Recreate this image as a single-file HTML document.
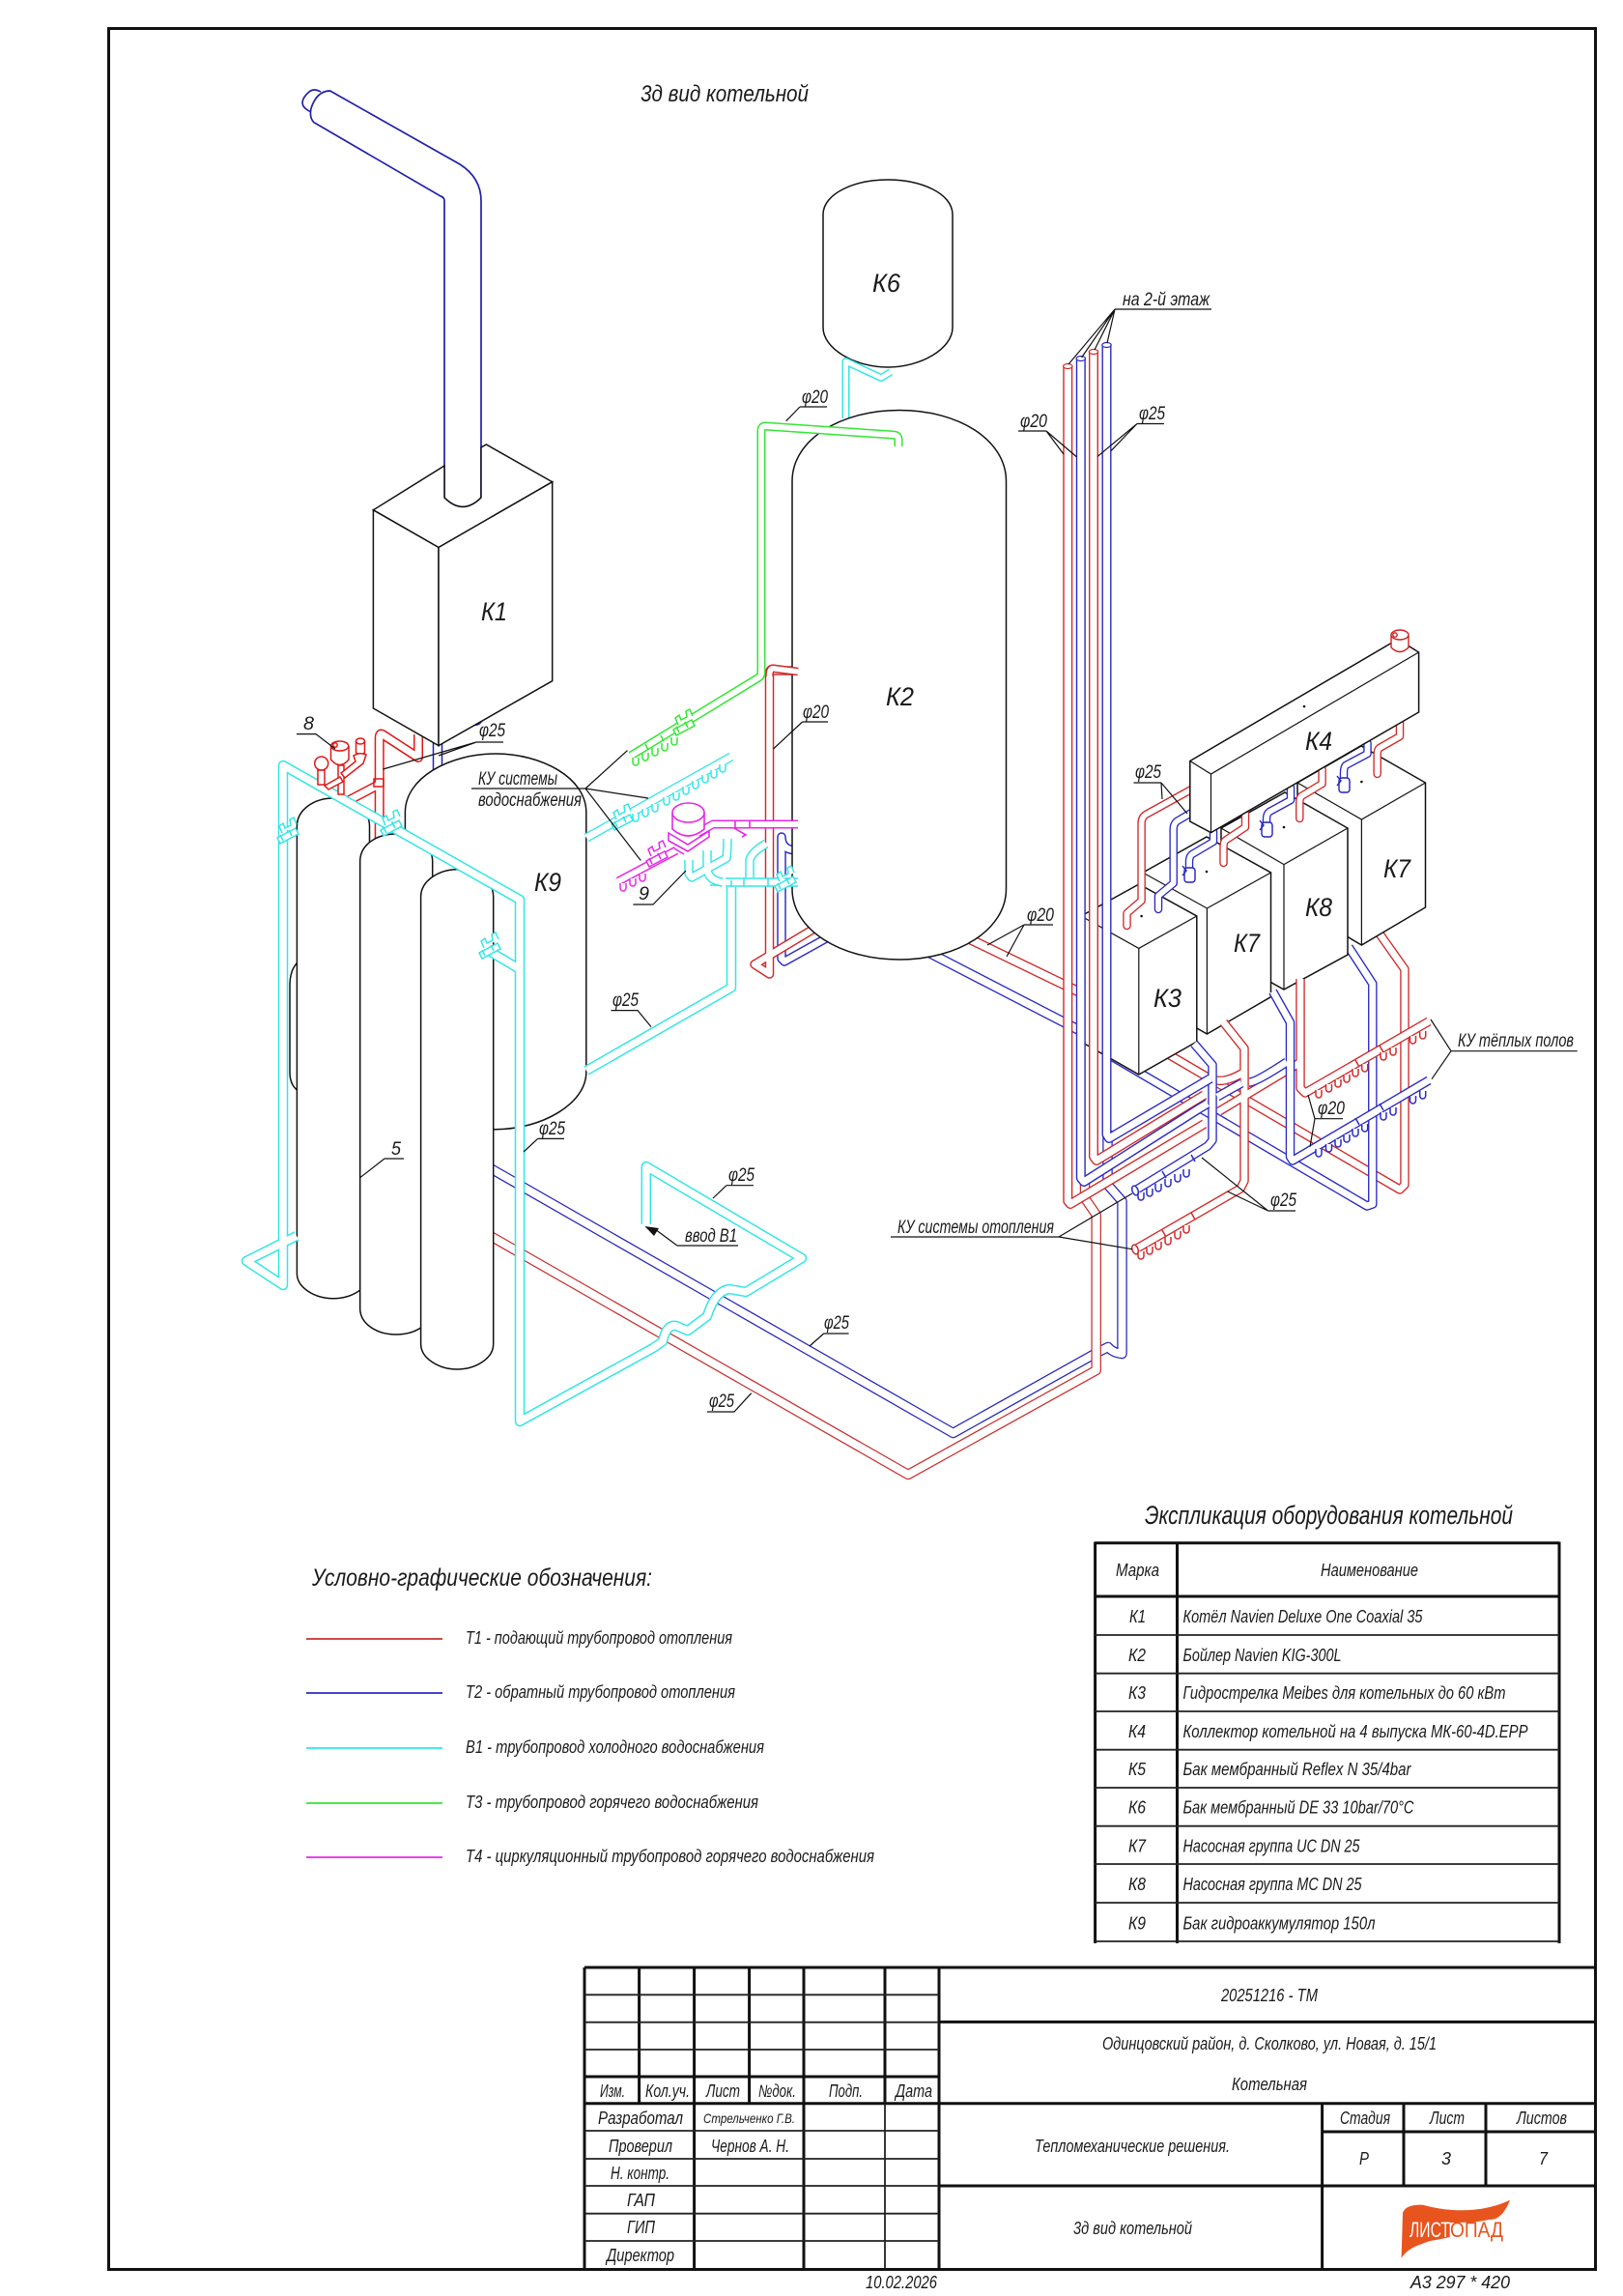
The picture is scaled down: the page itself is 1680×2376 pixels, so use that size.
<!DOCTYPE html>
<html lang="ru"><head><meta charset="utf-8"><title>3д вид котельной</title>
<style>
html,body{margin:0;padding:0;background:#fff}
svg{display:block}
text{font-family:"Liberation Sans",sans-serif;font-style:italic;fill:#1a1a1a;font-size:18px}
.k{font-size:27px}
.s{font-size:19px}
.bk{stroke:#111;fill:#fff;stroke-width:1.5}
.ln{stroke:#111;fill:none;stroke-width:1.2}
.tk{stroke:#111;fill:none;stroke-width:3}
.tn{stroke:#222;fill:none;stroke-width:1.8}
</style></head><body>
<svg xmlns="http://www.w3.org/2000/svg" width="1680" height="2376" viewBox="0 0 1680 2376">
<rect width="1680" height="2376" fill="#fff"/>
<defs>
<path id="t" d="M-3,0 v5 a3,3 0 0 0 6,0 v-5" fill="#fff"/>
<g id="v" fill="#fff"><path d="M-11,5 l19,-10 l3,6 l-19,10z"/><path d="M-6,0 l-3,-7 l4,-3 l2,5 l6,-3 l-1,-6 l4,-2 l3,7"/><path d="M-5,8 l-3,-6 M4,3 l-3,-6" fill="none"/></g>
<g id="rLong"><path d="M490,1269 L940,1526 L1134.7,1418 V1257 L1123,1240 V1215"/></g>
<g id="bLong"><path d="M490,1199 L986.6,1483 L1135,1400 L1147,1394 Q1152,1400 1161.5,1401 V1243 L1146.5,1226 V1170"/></g>
<g id="rK2"><path d="M1000,970 L1145,1040 L1158,1032"/></g>
<g id="bK2"><path d="M960,985 L1148,1082 L1158,1072"/></g>
<g id="rK7"><path d="M1427.8,966 L1454,1003 V1226 L1449,1231 L1211,1092"/></g>
<g id="bK7"><path d="M1396,980 L1420.8,1018 V1246 L1415,1248 L1152,1094"/></g>
<g id="rRis">
<path d="M1105.3,379 V1243 L1108,1246 L1246.7,1163"/>
<path d="M1132,364 V1197 L1135,1201 L1246.7,1133"/>
</g>
<g id="bRis">
<path d="M1118.8,371 V1219 L1122,1223 L1240,1148 L1250,1142"/>
<path d="M1145.5,357 V1174 L1148,1178 L1253,1116"/>
</g>
<g id="bFront">
<path d="M1236,1080 L1255,1102 V1180 L1250,1186 L1175,1232"/>
<path d="M1293,1120 Q1300,1120 1332,1099"/>
<path d="M1260,1135 L1285,1121"/>
<path d="M1317.5,1026 L1335.5,1058 V1197 L1338,1201 L1479,1118"/>
</g>
<g id="rFront">
<path d="M1266.5,1058 L1288,1085 V1222 L1284,1230 L1175,1293"/>
<path d="M1259,1118 Q1270,1120 1287,1110"/>
<path d="M1262,1150 L1345,1100"/>
<path d="M1346,1013 V1126 L1351,1131 L1479,1057"/>
</g>
<g id="rTop">
<path d="M1244,811 L1186,843 Q1181.6,846 1181.6,852 V932 L1166.5,945 V958"/>
<path d="M1289,842 V856 L1268,870 Q1266.5,872 1266.5,878 V893"/>
<path d="M1368.6,796 V811 L1347,824 Q1345.3,826 1345.3,830 V847"/>
<path d="M1449,748 V762 L1428,774 Q1425.7,776 1425.7,780 V801"/>
</g>
<g id="bTop">
<path d="M1240,837 L1218,850 Q1214.7,853 1214.7,858 V914 L1199,927 V941"/>
<path d="M1256,860 V871 L1234,884 Q1231,886 1231,892 V900"/>
<path d="M1336,815 V828 L1314,840 Q1311,842 1311,848 V855"/>
<path d="M1415.5,769 V780 L1393,792 Q1391,794 1391,800 V808"/>
</g>
<g id="cAll">
<path d="M307,1279 L255,1305 L293,1330 V792 L538,931 V1471 L676,1395 L686,1388 Q690,1370 700,1372 L712,1377 L732,1362 Q740,1336 755,1334 L772,1337 L830,1302 L668.8,1207 V1267"/>
<path d="M607,1108 L757,1022 V918"/>
<path d="M538,1003 L506,984"/>
</g>
<g id="cMan"><path d="M607,867 L757,783"/></g>
<g id="cPump">
<path d="M751,913 H826"/>
<path d="M732,899 Q733,911 748,913"/>
<path d="M713,890 V904 L716,908 L752,888 Q753,880 753,868"/>
<path d="M732,880 V900"/>
<path d="M776,908 V890 Q778,882 793,873"/>
</g>
<g id="mPump">
<path d="M826,853 H738 L722,862"/>
<path d="M700,880 L640,912"/>
</g>
<g id="gAll">
<path d="M930,462 V455 Q930,450 924,450 L792,441 Q788,441 788,446 V696 Q788,700 784,702 L653,782"/>
</g>
<g id="cK6"><path d="M875.5,433 V374 L912,391 L922,385"/></g>
<g id="rTall"><path d="M825,694 H802 Q796.5,690 796.5,698 V1008 L781,998 L841,962"/></g>
<g id="bTall"><path d="M825,880 Q809,880 809,866 V992 L812,995 L857,970"/></g>
<g id="rK1"><path d="M433,760 V784 L396,760 Q392.7,758 392.7,764 V880"/><path d="M392,812 L352,833"/></g>
</defs>

<!-- frame -->
<rect x="112.5" y="29.5" width="1539" height="2319" fill="none" stroke="#111" stroke-width="3"/>

<!-- flue -->
<g fill="#fff" stroke="#2020a8" stroke-width="1.7">
<path d="M332,95 Q325,91 320,95 Q312,102 313.3,108 Q314,112 322,116"/>
<path d="M341.7,94 L476,170 Q498,184 498,208 V515 Q479,534 460,515 V208 Q460,204 456,203 L325,126.7 Q320,122 322,112 Q328,94 341.7,94Z"/>
</g>

<!-- K1 behind pipes -->
<g fill="none" stroke-linejoin="round">
<use href="#rK1" stroke="#e01818" stroke-width="10"/><use href="#rK1" stroke="#fff" stroke-width="7"/>
<path d="M453,762 V800" stroke="#2020c0" stroke-width="10.5"/><path d="M453,762 V800" stroke="#fff" stroke-width="7.5"/>
</g>
<path d="M490,750 Q496,752 500,744" fill="none" stroke="#2020c0" stroke-width="1.4"/>

<!-- K1 box -->
<path class="bk" d="M386.4,527.8 L454,566.5 L571.7,498.7 L503.4,460 L498,463 V515 Q479,534 460,515 V482Z" />
<path class="bk" d="M386.4,527.8 L454,566.5 V771.6 L386.4,733Z"/>
<path class="bk" d="M454,566.5 L571.7,498.7 V704.7 L454,771.6Z"/>
<text class="k" x="498" y="642" textLength="27" lengthAdjust="spacingAndGlyphs">К1</text>

<!-- K6 -->
<g fill="none" stroke-linejoin="round">
<path class="bk" d="M852,222 C852,200 885,186 919,186 C953,186 986,200 986,222 V339 C986,361 953,380 919,380 C885,380 852,361 852,339Z"/>
<use href="#cK6" stroke="#33e6e6" stroke-width="8"/><use href="#cK6" stroke="#fff" stroke-width="5"/>
</g>
<text class="k" x="903" y="302" textLength="29" lengthAdjust="spacingAndGlyphs">К6</text>

<!-- Tall pipes behind K2 -->
<g fill="none" stroke-linejoin="round">
<use href="#rK2" stroke="#d02a2a" stroke-width="10.5"/><use href="#rK2" stroke="#fff" stroke-width="7.8"/>
<use href="#bK2" stroke="#2a2ac4" stroke-width="10.5"/><use href="#bK2" stroke="#fff" stroke-width="7.8"/>
<use href="#bTall" stroke="#2a2ac4" stroke-width="9.5"/><use href="#bTall" stroke="#fff" stroke-width="6.6"/>
<use href="#rTall" stroke="#d02a2a" stroke-width="9.5"/><use href="#rTall" stroke="#fff" stroke-width="6.6"/>
</g>
<!-- K2 -->
<path class="bk" d="M820,498 C820,455 870,424.5 931,424.5 C992,424.5 1041.5,455 1041.5,498 V920 C1041.5,962 992,993 931,993 C870,993 820,962 820,920Z"/>
<text class="k" x="917" y="730" textLength="29" lengthAdjust="spacingAndGlyphs">К2</text>
<g fill="none" stroke-linejoin="round">
<path d="M796.5,700 Q796.5,690 802,692 L826,695" stroke="#d02a2a" stroke-width="8.5"/><path d="M796.5,700 Q796.5,690 802,692 L826,695" stroke="#fff" stroke-width="5.6"/>
<use href="#gAll" stroke="#33e633" stroke-width="9"/><use href="#gAll" stroke="#fff" stroke-width="6"/>
</g>
<use href="#v" x="708" y="750" fill="none" stroke="#33e633" stroke-width="1.5"/>
<g stroke="#33e633" stroke-width="1.5" fill="none">
<use href="#t" x="658" y="784"/><use href="#t" x="668" y="779"/><use href="#t" x="678" y="774"/><use href="#t" x="688" y="769"/><use href="#t" x="698" y="763"/>
<path d="M668,770 l3,6 M684,761 l3,6"/>
</g>

<!-- long pipes -->
<g fill="none" stroke-linejoin="round">
<use href="#bLong" stroke="#2626b8" stroke-width="10.5"/><use href="#bLong" stroke="#fff" stroke-width="8"/>
<use href="#rLong" stroke="#c83030" stroke-width="10.5"/><use href="#rLong" stroke="#fff" stroke-width="8"/>
<use href="#rK7" stroke="#d02a2a" stroke-width="9.5"/><use href="#rK7" stroke="#fff" stroke-width="6.8"/>
<use href="#bK7" stroke="#2a2ac4" stroke-width="9.5"/><use href="#bK7" stroke="#fff" stroke-width="6.8"/>
</g>

<!-- boxes -->
<g>
<path class="bk" d="M1343,810 L1409,772 L1475.5,810 V939 L1409.4,978 L1343,939Z"/><path class="ln" d="M1343,810 L1409.4,848 L1475.5,810 M1409.4,848 V978"/>
<path class="bk" d="M1264,857 L1330,820 L1395,857 V988 L1329,1024 L1264,988Z"/><path class="ln" d="M1264,857 L1329,894.6 L1395,857 M1329,894.6 V1024"/>
<path class="bk" d="M1183,903 L1249,866 L1315.5,903 V1031.7 L1249.4,1070 L1183,1032Z"/><path class="ln" d="M1183,903 L1249.4,940 L1315.5,903 M1249.4,940 V1070"/>
<path class="bk" d="M1119,948 L1179,915 L1238.8,948 V1078 L1178.8,1112 L1119,1078Z"/><path class="ln" d="M1119,948 L1178.8,981.4 L1238.8,948 M1178.8,981.4 V1112"/>
</g>
<text class="k" x="1194" y="1042" textLength="29" lengthAdjust="spacingAndGlyphs">К3</text>
<text class="k" x="1277" y="985" textLength="27" lengthAdjust="spacingAndGlyphs">К7</text>
<text class="k" x="1351" y="948" textLength="28" lengthAdjust="spacingAndGlyphs">К8</text>
<text class="k" x="1432" y="908" textLength="28" lengthAdjust="spacingAndGlyphs">К7</text>

<!-- pipes from K4 -->
<g fill="none" stroke-linejoin="round" stroke-linecap="round">
<use href="#rTop" stroke="#d02a2a" stroke-width="8.5"/><use href="#rTop" stroke="#fff" stroke-width="5.8"/>
<use href="#bTop" stroke="#2a2ac4" stroke-width="8.5"/><use href="#bTop" stroke="#fff" stroke-width="5.8"/>
</g>
<g stroke="#2020c0" stroke-width="1.4" fill="#fff">
<rect x="1226" y="898" width="11" height="15" rx="3"/><rect x="1306" y="851" width="11" height="15" rx="3"/><rect x="1386" y="805" width="11" height="15" rx="3"/>
<path d="M1224,896 l4,5 l-4,5 M1304,849 l4,5 l-4,5 M1384,803 l4,5 l-4,5" fill="none"/>
</g>
<g fill="#111"><circle cx="1249" cy="902" r="1.3"/><circle cx="1329" cy="856" r="1.3"/><circle cx="1409.4" cy="809" r="1.3"/><circle cx="1181.6" cy="948" r="1.3"/></g>

<!-- K4 -->
<path class="bk" d="M1231.8,787.5 L1446.9,661.5 L1468.6,675 V737 L1253.5,861.7 L1231.8,850Z"/>
<path class="ln" d="M1231.8,787.5 L1253.5,801 L1468.6,675 M1253.5,801 V861.7"/>
<g fill="#fff" stroke="#d02020" stroke-width="1.4">
<path d="M1440,657 V670 Q1449,679 1458,670 V657"/><ellipse cx="1449" cy="657" rx="9" ry="5"/><circle cx="1444" cy="657" r="2.2" fill="none"/>
</g>
<text class="k" x="1351" y="776" textLength="28" lengthAdjust="spacingAndGlyphs">К4</text>
<circle cx="1350" cy="731" r="1.3" fill="#111"/>

<!-- risers -->
<g fill="none" stroke-linejoin="round">
<use href="#rFront" stroke="#d02a2a" stroke-width="9.5"/><use href="#rFront" stroke="#fff" stroke-width="6.8"/>
<use href="#bFront" stroke="#2a2ac4" stroke-width="9.5"/><use href="#bFront" stroke="#fff" stroke-width="6.8"/>
<use href="#rRis" stroke="#d02a2a" stroke-width="10"/><use href="#rRis" stroke="#fff" stroke-width="7.2"/>
<use href="#bRis" stroke="#2a2ac4" stroke-width="10"/><use href="#bRis" stroke="#fff" stroke-width="7.2"/>
</g>
<g fill="#fff" stroke-width="1.2">
<ellipse cx="1105.3" cy="379" rx="4.7" ry="2.5" stroke="#d02a2a"/><ellipse cx="1118.8" cy="371" rx="4.7" ry="2.5" stroke="#2a2ac4"/><ellipse cx="1132" cy="364" rx="4.7" ry="2.5" stroke="#d02a2a"/><ellipse cx="1145.5" cy="357" rx="4.7" ry="2.5" stroke="#2a2ac4"/>
</g>
<g fill="none" stroke="#2a2ac4" stroke-width="1.5">
<use href="#t" x="1181" y="1234"/><use href="#t" x="1190" y="1230"/><use href="#t" x="1199" y="1225"/><use href="#t" x="1209" y="1220"/><use href="#t" x="1219" y="1215"/><use href="#t" x="1228" y="1210"/>
<use href="#t" x="1365" y="1189"/><use href="#t" x="1375.5" y="1184"/><use href="#t" x="1385" y="1179"/><use href="#t" x="1394" y="1174"/><use href="#t" x="1403" y="1168"/><use href="#t" x="1412.7" y="1163"/><use href="#t" x="1432" y="1151"/><use href="#t" x="1442" y="1146"/><use href="#t" x="1462.5" y="1134"/><use href="#t" x="1472.7" y="1129"/>
<path d="M1203,1212 l4,7 M1233,1195 l4,7 M1403,1157 l4,7 M1428,1142 l4,7"/>
<ellipse cx="1175" cy="1232" rx="3" ry="5" transform="rotate(-20 1175 1232)" fill="#fff"/>
</g>
<g fill="none" stroke="#d02a2a" stroke-width="1.5">
<use href="#t" x="1181" y="1295"/><use href="#t" x="1190" y="1290"/><use href="#t" x="1199" y="1285"/><use href="#t" x="1209" y="1280"/><use href="#t" x="1219" y="1274"/><use href="#t" x="1228" y="1268"/>
<use href="#t" x="1365" y="1128"/><use href="#t" x="1375.5" y="1122"/><use href="#t" x="1385" y="1117"/><use href="#t" x="1394" y="1112"/><use href="#t" x="1403" y="1106"/><use href="#t" x="1412.7" y="1101"/><use href="#t" x="1432" y="1089"/><use href="#t" x="1442" y="1084"/><use href="#t" x="1462.5" y="1072"/><use href="#t" x="1472.7" y="1067"/>
<path d="M1203,1273 l4,7 M1233,1255 l4,7 M1403,1097 l4,7 M1428,1082 l4,7"/>
<ellipse cx="1175" cy="1293" rx="3" ry="5" transform="rotate(-20 1175 1293)" fill="#fff"/>
</g>

<!-- tanks K9 K5 and cylinders -->
<path class="bk" d="M419.4,840.6 C419.4,805 465,780 513,780 C561,780 606.8,805 606.8,840.6 V1109.6 C606.8,1142 561,1168.7 513,1168.7 C465,1168.7 419.4,1142 419.4,1109.6Z"/>
<text class="k" x="553" y="922" textLength="28" lengthAdjust="spacingAndGlyphs">К9</text>
<path class="bk" d="M312,993 Q300,1000 300,1020 V1110 Q300,1125 312,1131Z"/>
<path class="bk" d="M307.4,855 C307.4,838 325,826 345,826 C365,826 382.5,838 382.5,855 V1318 C382.5,1332 365,1343.7 345,1343.7 C325,1343.7 307.4,1332 307.4,1318Z"/>
<path class="bk" d="M372.7,891.5 C372.7,874 390,863 410,863 C430,863 447.7,874 447.7,891.5 V1354 C447.7,1370 430,1381 410,1381 C390,1381 372.7,1370 372.7,1354Z"/>
<path class="bk" d="M435.6,928 C435.6,911 455,899.7 473,899.7 C492,899.7 510.7,911 510.7,928 V1391 C510.7,1406 492,1417 473,1417 C455,1417 435.6,1406 435.6,1391Z"/>

<!-- cyan -->
<g fill="none" stroke-linejoin="round">
<use href="#cMan" stroke="#33e6e6" stroke-width="9.5"/><use href="#cMan" stroke="#fff" stroke-width="6.8"/>
<use href="#cAll" stroke="#33e6e6" stroke-width="10.5"/><use href="#cAll" stroke="#fff" stroke-width="7.5"/>
<use href="#cPump" stroke="#33e6e6" stroke-width="9.5"/><use href="#cPump" stroke="#fff" stroke-width="6.6"/>
</g>
<g fill="none" stroke="#33e6e6" stroke-width="1.5">
<use href="#v" x="298" y="862"/><use href="#v" x="405" y="854"/><use href="#v" x="507" y="981"/><use href="#v" x="644" y="848"/><use href="#v" x="813" y="912"/>
<use href="#t" x="658" y="842"/><use href="#t" x="668" y="837"/><use href="#t" x="678" y="832"/><use href="#t" x="690" y="825"/><use href="#t" x="700" y="820"/><use href="#t" x="710" y="814"/><use href="#t" x="720" y="808"/><use href="#t" x="730" y="802"/><use href="#t" x="739" y="797"/><use href="#t" x="748" y="791"/>
<path d="M735,916 H744 M757,911 V918 M770,909 V917 M795,909 V917"/>
</g>

<!-- magenta -->
<g fill="none" stroke-linejoin="round">
<use href="#mPump" stroke="#e628e6" stroke-width="9"/><use href="#mPump" stroke="#fff" stroke-width="6"/>
</g>
<g stroke="#e628e6" stroke-width="1.6" fill="#fff">
<path d="M696,841 V858 Q712,872 729,858 V841"/><ellipse cx="712.5" cy="841" rx="16.5" ry="10"/>
<path d="M692,862 L712,874 L734,860 L734,866 L712,881 L692,870Z"/>
<path d="M698,878 L708,884"/>
<path d="M761,849 V857 M776,849 V857 M760,857 L772,864 L768,866"/>
</g>
<g fill="none" stroke="#e628e6" stroke-width="1.5">
<use href="#v" x="680" y="886"/><use href="#t" x="645" y="914"/><use href="#t" x="655" y="909"/><use href="#t" x="665" y="904"/>
</g>

<!-- gauges red -->
<g stroke="#e01818" stroke-width="1.5" fill="#fff">
<path d="M350,792 V822 H356 V792Z"/>
<circle cx="332.7" cy="790" r="7"/>
<path d="M329,797 V812 H336 V797Z"/>
<path d="M342.5,772 V786 Q351.7,797 361,786 V772"/><ellipse cx="351.7" cy="772" rx="9" ry="5"/>
<circle cx="347" cy="771" r="2.2" fill="none"/>
<path d="M368.5,767 V779 Q373,782 377.5,779 V767"/><ellipse cx="373" cy="767" rx="4.5" ry="3"/>
<path d="M366,782 Q372,778 379,781 L376,790 L357,805 L353,800 L368,788Z"/>
<path d="M336,813 L352,804 L355,809 L340,817Z"/>
<path d="M387,806 h10 v8 h-10z" fill="none"/>
</g>

<!-- leaders -->
<g class="ln">
<path d="M1154,320 H1254 M1154,320 L1106,377 M1154,320 L1119.6,370 M1154,320 L1133,362 M1154,320 L1146,355"/>
<path d="M1054,446 H1083 M1083,446 L1101,470 M1083,446 L1114.7,473"/>
<path d="M1177,438.5 H1205 M1177,438.5 L1136,472.4 M1177,438.5 L1150,466.6"/>
<path d="M1173.5,810 H1202 M1202,810 L1203,827 M1202,810 L1229,842"/>
<path d="M1060,957 H1090 M1060,957 L1022,978 M1060,957 L1042,990"/>
<path d="M1502,1087.7 H1632.7 M1502,1087.7 L1481,1055 M1502,1087.7 L1482,1116.7"/>
<path d="M1361,1157.7 H1390 M1361,1157.7 L1354,1133 M1361,1157.7 L1356,1186.7"/>
<path d="M1312.6,1253 H1341 M1312.6,1253 L1244,1198 M1312.6,1253 L1270.6,1233"/>
<path d="M922,1280 H1096 M1096,1280 L1172,1235 M1096,1280 L1172,1292.7"/>
<path d="M852.7,1380 H878.6 M852.7,1380 L838,1393"/>
<path d="M732,1461 H760 L777.7,1441.7"/>
<path d="M752,1226.7 H780 M752,1226.7 L738,1240"/>
<path d="M493,768 H521 M493,768 L396.4,796 M493,768 L454,782"/>
<path d="M307,759.6 H327 L347,775"/>
<path d="M488,816 H606 M606,816 L649.5,776.6 M606,816 L671,826 M606,816 L663.3,890.5"/>
<path d="M655.4,936 H676 L710,901"/>
<path d="M632.5,1045.6 H660 L674,1062.6"/>
<path d="M556.6,1178.4 H584 M556.6,1178.4 L542,1192"/>
<path d="M398,1199 H418 M398,1199 L372.7,1218.7"/>
<path d="M830.6,747 H857 M830.6,747 L800.5,775"/>
<path d="M828,421 H856 M828,421 L813.7,435.7"/>
<path d="M701,1289 H764 M701,1289 L678,1272"/>
</g>
<path d="M667.4,1269 L682,1271 L677,1279Z" fill="#111"/>

<!-- labels -->
<text x="663" y="105" style="font-size:24px" textLength="174" lengthAdjust="spacingAndGlyphs">3д вид котельной</text>
<text class="s" x="1162" y="316" textLength="90" lengthAdjust="spacingAndGlyphs">на 2-й этаж</text>
<text class="s" x="1056" y="442" textLength="28" lengthAdjust="spacingAndGlyphs">φ20</text>
<text class="s" x="1179" y="434" textLength="27" lengthAdjust="spacingAndGlyphs">φ25</text>
<text class="s" x="1175" y="805" textLength="27" lengthAdjust="spacingAndGlyphs">φ25</text>
<text class="s" x="1063" y="953" textLength="28" lengthAdjust="spacingAndGlyphs">φ20</text>
<text class="s" x="1509" y="1083" textLength="120" lengthAdjust="spacingAndGlyphs">КУ тёплых полов</text>
<text class="s" x="1364" y="1153" textLength="28" lengthAdjust="spacingAndGlyphs">φ20</text>
<text class="s" x="1315" y="1248" textLength="27" lengthAdjust="spacingAndGlyphs">φ25</text>
<text class="s" x="929" y="1276" textLength="162" lengthAdjust="spacingAndGlyphs">КУ системы отопления</text>
<text class="s" x="853" y="1375" textLength="26" lengthAdjust="spacingAndGlyphs">φ25</text>
<text class="s" x="734" y="1456" textLength="26" lengthAdjust="spacingAndGlyphs">φ25</text>
<text class="s" x="754" y="1222" textLength="27" lengthAdjust="spacingAndGlyphs">φ25</text>
<text class="s" x="709" y="1285" textLength="54" lengthAdjust="spacingAndGlyphs">ввод В1</text>
<text class="s" x="496" y="762" textLength="27" lengthAdjust="spacingAndGlyphs">φ25</text>
<text class="s" x="314" y="755" textLength="11" lengthAdjust="spacingAndGlyphs">8</text>
<text class="s" x="495" y="812" textLength="82" lengthAdjust="spacingAndGlyphs">КУ системы</text>
<text class="s" x="495" y="834" textLength="107" lengthAdjust="spacingAndGlyphs">водоснабжения</text>
<text class="s" x="661" y="931" textLength="11" lengthAdjust="spacingAndGlyphs">9</text>
<text class="s" x="634" y="1041" textLength="27" lengthAdjust="spacingAndGlyphs">φ25</text>
<text class="s" x="558" y="1174" textLength="27" lengthAdjust="spacingAndGlyphs">φ25</text>
<text class="s" x="405" y="1195" textLength="10" lengthAdjust="spacingAndGlyphs">5</text>
<text class="s" x="831" y="743" textLength="27" lengthAdjust="spacingAndGlyphs">φ20</text>
<text class="s" x="830" y="417" textLength="27" lengthAdjust="spacingAndGlyphs">φ20</text>

<!-- legend -->
<text x="323" y="1641" style="font-size:25px" textLength="352" lengthAdjust="spacingAndGlyphs">Условно-графические обозначения:</text>
<g stroke-width="1.8">
<path d="M317,1696 H458" stroke="#c83030"/>
<path d="M317,1752 H458" stroke="#2a2ac4"/>
<path d="M317,1809 H458" stroke="#33e6e6"/>
<path d="M317,1866 H458" stroke="#33e633"/>
<path d="M317,1922 H458" stroke="#e628e6"/>
</g>
<text x="482" y="1701" textLength="276" lengthAdjust="spacingAndGlyphs">Т1 - подающий трубопровод отопления</text>
<text x="482" y="1757" textLength="279" lengthAdjust="spacingAndGlyphs">Т2 - обратный трубопровод отопления</text>
<text x="482" y="1814" textLength="309" lengthAdjust="spacingAndGlyphs">В1 - трубопровод холодного водоснабжения</text>
<text x="482" y="1871" textLength="303" lengthAdjust="spacingAndGlyphs">Т3 - трубопровод горячего водоснабжения</text>
<text x="482" y="1927" textLength="423" lengthAdjust="spacingAndGlyphs">Т4 - циркуляционный трубопровод горячего водоснабжения</text>

<!-- explication -->
<text x="1185" y="1577" style="font-size:27px" textLength="381" lengthAdjust="spacingAndGlyphs">Экспликация оборудования котельной</text>
<g class="tk" >
<path d="M1133.6,1596.7 H1614 M1133.6,1652 H1614 M1133.6,1595.5 V2011 M1218.5,1595.5 V2011 M1614,1595.5 V2011"/>
</g>
<g class="tn">
<path d="M1133.6,1692 H1614 M1133.6,1731.7 H1614 M1133.6,1771 H1614 M1133.6,1810.7 H1614 M1133.6,1850 H1614 M1133.6,1889.7 H1614 M1133.6,1929 H1614 M1133.6,1969 H1614 M1133.6,2009 H1614"/>
</g>
<text x="1155" y="1631" textLength="45" lengthAdjust="spacingAndGlyphs">Марка</text>
<text x="1367" y="1631" textLength="101" lengthAdjust="spacingAndGlyphs">Наименование</text>
<g>
<text x="1169" y="1679" textLength="17" lengthAdjust="spacingAndGlyphs">К1</text><text x="1224.5" y="1679" textLength="248" lengthAdjust="spacingAndGlyphs">Котёл Navien Deluxe One Coaxial 35</text>
<text x="1168" y="1719" textLength="18" lengthAdjust="spacingAndGlyphs">К2</text><text x="1224.5" y="1719" textLength="164" lengthAdjust="spacingAndGlyphs">Бойлер Navien KIG-300L</text>
<text x="1168" y="1758" textLength="18" lengthAdjust="spacingAndGlyphs">К3</text><text x="1224.5" y="1758" textLength="334" lengthAdjust="spacingAndGlyphs">Гидрострелка Meibes для котельных до 60 кВт</text>
<text x="1168" y="1798" textLength="18" lengthAdjust="spacingAndGlyphs">К4</text><text x="1224.5" y="1798" textLength="357" lengthAdjust="spacingAndGlyphs">Коллектор котельной на 4 выпуска МК-60-4D.EPP</text>
<text x="1168" y="1837" textLength="18" lengthAdjust="spacingAndGlyphs">К5</text><text x="1224.5" y="1837" textLength="236" lengthAdjust="spacingAndGlyphs">Бак мембранный Reflex N 35/4bar</text>
<text x="1168" y="1876.5" textLength="18" lengthAdjust="spacingAndGlyphs">К6</text><text x="1224.5" y="1876.5" textLength="239" lengthAdjust="spacingAndGlyphs">Бак мембранный DE 33 10bar/70°C</text>
<text x="1168" y="1916.5" textLength="18" lengthAdjust="spacingAndGlyphs">К7</text><text x="1224.5" y="1916.5" textLength="183" lengthAdjust="spacingAndGlyphs">Насосная группа UC DN 25</text>
<text x="1168" y="1956" textLength="18" lengthAdjust="spacingAndGlyphs">К8</text><text x="1224.5" y="1956" textLength="185" lengthAdjust="spacingAndGlyphs">Насосная группа MC DN 25</text>
<text x="1168" y="1996.5" textLength="18" lengthAdjust="spacingAndGlyphs">К9</text><text x="1224.5" y="1996.5" textLength="199" lengthAdjust="spacingAndGlyphs">Бак гидроаккумулятор 150л</text>
</g>

<!-- title block -->
<g class="tk">
<path d="M605,2036 H1651.5 M605,2149 H972 M605,2176.7 H1651.5 M972,2092.4 H1651.5 M972,2262 H1651.5 M1368.6,2206 H1651.5"/>
<path d="M605,2036 V2348 M661.6,2036 V2176.7 M718.6,2036 V2348 M775.6,2036 V2176.7 M832,2036 V2348 M916,2036 V2176.7 M972,2036 V2348 M1368.6,2176.7 V2348 M1453,2176.7 V2262 M1538,2176.7 V2262"/>
</g>
<g class="tn">
<path d="M605,2064.3 H972 M605,2092.7 H972 M605,2121 H972 M605,2205 H972 M605,2234 H972 M605,2262 H972 M605,2290.7 H972 M605,2319 H972"/>
<path d="M916,2176.7 V2348"/>
</g>
<g style="font-size:18px">
<text x="621" y="2170" textLength="26" lengthAdjust="spacingAndGlyphs">Изм.</text>
<text x="668" y="2170" textLength="46" lengthAdjust="spacingAndGlyphs">Кол.уч.</text>
<text x="731" y="2170" textLength="35" lengthAdjust="spacingAndGlyphs">Лист</text>
<text x="785" y="2170" textLength="39" lengthAdjust="spacingAndGlyphs">№док.</text>
<text x="858" y="2170" textLength="35" lengthAdjust="spacingAndGlyphs">Подп.</text>
<text x="927" y="2170" textLength="38" lengthAdjust="spacingAndGlyphs">Дата</text>
<text x="619" y="2198" textLength="88" lengthAdjust="spacingAndGlyphs">Разработал</text>
<text x="728" y="2197" style="font-size:14px" textLength="95" lengthAdjust="spacingAndGlyphs">Стрельченко Г.В.</text>
<text x="630" y="2227" textLength="66" lengthAdjust="spacingAndGlyphs">Проверил</text>
<text x="736" y="2227" textLength="81" lengthAdjust="spacingAndGlyphs">Чернов А. Н.</text>
<text x="632" y="2255" textLength="61" lengthAdjust="spacingAndGlyphs">Н. контр.</text>
<text x="649" y="2283" textLength="29" lengthAdjust="spacingAndGlyphs">ГАП</text>
<text x="649" y="2311" textLength="29" lengthAdjust="spacingAndGlyphs">ГИП</text>
<text x="628" y="2340" textLength="70" lengthAdjust="spacingAndGlyphs">Директор</text>
<text x="1264" y="2071" textLength="100" lengthAdjust="spacingAndGlyphs">20251216 - ТМ</text>
<text x="1141" y="2121" textLength="346" lengthAdjust="spacingAndGlyphs">Одинцовский район, д. Сколково, ул. Новая, д. 15/1</text>
<text x="1275" y="2163" textLength="78" lengthAdjust="spacingAndGlyphs">Котельная</text>
<text x="1071" y="2227" textLength="202" lengthAdjust="spacingAndGlyphs">Тепломеханические решения.</text>
<text x="1387" y="2198" textLength="52" lengthAdjust="spacingAndGlyphs">Стадия</text>
<text x="1480" y="2198" textLength="36" lengthAdjust="spacingAndGlyphs">Лист</text>
<text x="1570" y="2198" textLength="52" lengthAdjust="spacingAndGlyphs">Листов</text>
<text x="1407" y="2240" textLength="10" lengthAdjust="spacingAndGlyphs">Р</text>
<text x="1492" y="2240" textLength="10" lengthAdjust="spacingAndGlyphs">3</text>
<text x="1593" y="2240" textLength="9" lengthAdjust="spacingAndGlyphs">7</text>
<text x="1111" y="2312" textLength="123" lengthAdjust="spacingAndGlyphs">3д вид котельной</text>
<text x="896" y="2368" textLength="74" lengthAdjust="spacingAndGlyphs">10.02.2026</text>
<text x="1460" y="2368" textLength="103" lengthAdjust="spacingAndGlyphs">А3   297 * 420</text>
</g>

<!-- logo -->
<path d="M1450.6,2336.7 L1452,2290 Q1455,2281 1473,2281.7 C1495,2288 1530,2292 1563,2276.7 C1558,2290 1550,2298 1542,2296.7 C1530,2300 1515,2300 1500.7,2300 L1500.7,2315 C1490,2318 1480,2318 1473,2321.7 C1462,2325 1455,2330 1450.6,2336.7Z" fill="#e8541e"/>
<text x="1459" y="2315" style="font-size:22px;fill:#fff;font-style:normal" textLength="42" lengthAdjust="spacingAndGlyphs">ЛИСТ</text>
<text x="1501" y="2315" style="font-size:22px;fill:#e8541e;font-style:normal" textLength="55" lengthAdjust="spacingAndGlyphs">ОПАД</text>
</svg>
</body></html>
